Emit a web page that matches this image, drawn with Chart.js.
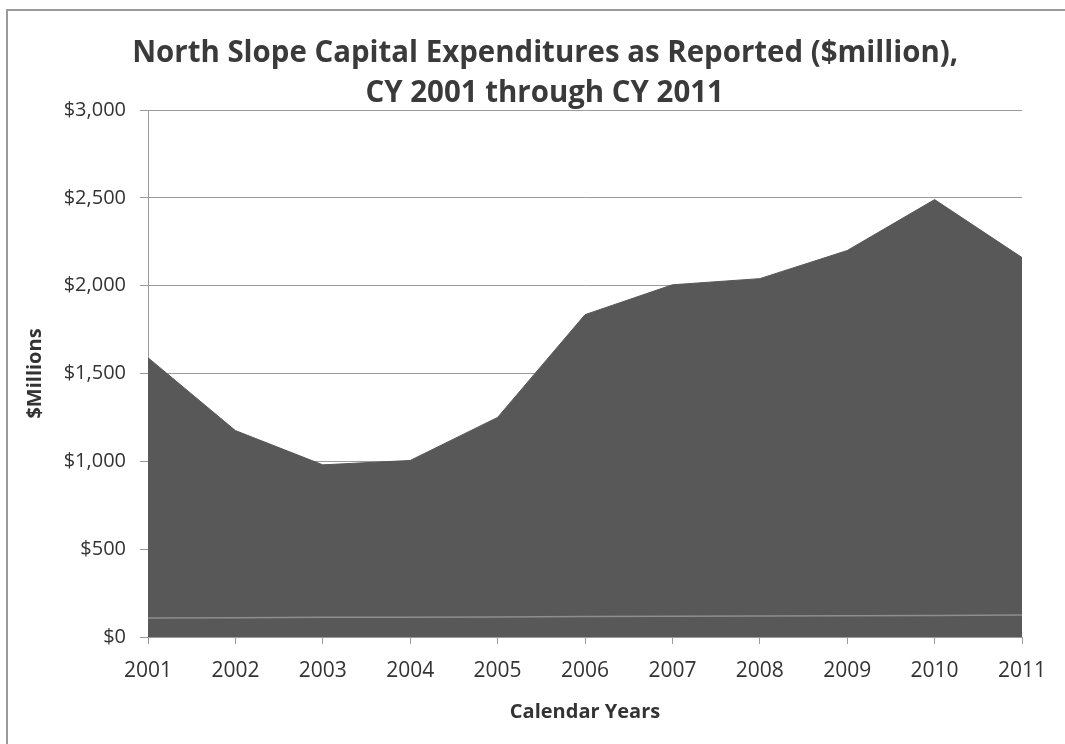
<!DOCTYPE html>
<html>
<head>
<meta charset="utf-8">
<script src="https://cdn.jsdelivr.net/npm/chart.js@4/dist/chart.umd.min.js"></script>
<style>
    html, body { margin: 0; padding: 0; background: #fff; overflow: hidden; }
    #wrap { position: relative; width: 1065px; height: 744px; overflow: hidden; }
    #chart { position: absolute; left: 0; top: 0; }
    #frame {
        position: absolute; left: 6px; top: 9px; width: 1200px; height: 900px;
        border-left: 2px solid #9a9a9a; border-top: 2px solid #9a9a9a;
    }
    #title {
        position: absolute; left: 0; top: 31px; width: 1090px; text-align: center;
        font-family: "Open Sans", sans-serif; font-weight: 700; font-size: 30px;
        line-height: 40px; color: #3a3a3a; z-index: 2;
    }
    #title span { display: inline-block; white-space: nowrap; transform-origin: center; }
</style>
</head>
<body>
<div id="wrap">
    <canvas id="chart" width="1065" height="744"></canvas>
    <div id="frame"></div>
    <div id="title">
        <span id="t1">North Slope Capital Expenditures as Reported ($million),</span><br>
        <span id="t2">CY 2001 through CY 2011</span>
    </div>
</div>
<script>
const years = ["2001", "2002", "2003", "2004", "2005", "2006", "2007", "2008", "2009", "2010", "2011"]
// капвложения, $ млн
const capex = [1590, 1175, 980, 1005, 1250, 1835, 2005, 2040, 2200, 2490, 2160]
// светлая линия у основания области
const baseLine = [108, 110, 112, 112, 114, 116, 118, 119, 121, 123, 125]

const yMin = 0
const yMax = 3000
const yStep = 500

// сжимаем заголовок по ширине
const fitTitle = () => {
    const ctx = document.createElement("canvas").getContext("2d")
    ctx.font = "700 30px 'Open Sans'"
    const w = ctx.measureText(document.getElementById("t1").textContent).width
    const k = 826 / w
    document.getElementById("t1").style.transform = `scaleX(${k})`
    document.getElementById("t2").style.transform = `scaleX(${k})`
}

const axisColor = "#9a9a9a"
const textColor = "#333333"

new Chart(document.getElementById("chart"), {
    type: "line",
    data: {
        labels: years,
        datasets: [
            {
                label: "base",
                data: baseLine,
                borderColor: "#8e8e8e",
                borderWidth: 1.5,
                fill: false,
                pointRadius: 0,
                order: 0
            },
            {
                label: "Capital Expenditures",
                data: capex,
                borderColor: "#585858",
                backgroundColor: "#585858",
                borderWidth: 1,
                fill: "origin",
                pointRadius: 0,
                tension: 0,
                order: 1
            }
        ]
    },
    options: {
        responsive: false,
        animation: false,
        layout: { padding: { top: 110, right: 43, bottom: 0, left: 0 } },
        plugins: {
            legend: { display: false },
            tooltip: { enabled: false },
            title: { display: false }
        },
        scales: {
            x: {
                type: "category",
                offset: false,
                afterFit: s => { s.height = 107 },
                grid: {
                    offset: false,
                    drawOnChartArea: false,
                    drawTicks: true,
                    tickLength: 7,
                    color: axisColor
                },
                border: { display: true, color: axisColor },
                ticks: {
                    color: textColor,
                    padding: 14,
                    maxRotation: 0,
                    font: { family: "'Open Sans'", size: 21 }
                },
                title: {
                    display: true,
                    text: "Calendar Years",
                    color: textColor,
                    padding: { top: 0, bottom: 20 },
                    font: { family: "'Open Sans'", size: 20, weight: "bold" }
                }
            },
            y: {
                min: yMin,
                max: yMax,
                afterFit: s => { s.width = 148 },
                grid: {
                    color: axisColor,
                    drawTicks: true,
                    tickLength: 8
                },
                border: { display: true, color: axisColor },
                ticks: {
                    stepSize: yStep,
                    color: textColor,
                    padding: 14,
                    font: { family: "'Open Sans'", size: 20 },
                    callback: v => "$" + v.toLocaleString("en-US")
                },
                title: {
                    display: true,
                    text: "$Millions",
                    color: textColor,
                    padding: { top: 23, bottom: 0 },
                    font: { family: "'Open Sans'", size: 20, weight: "bold" }
                }
            }
        }
    }
})

fitTitle()
</script>
</body>
</html>
